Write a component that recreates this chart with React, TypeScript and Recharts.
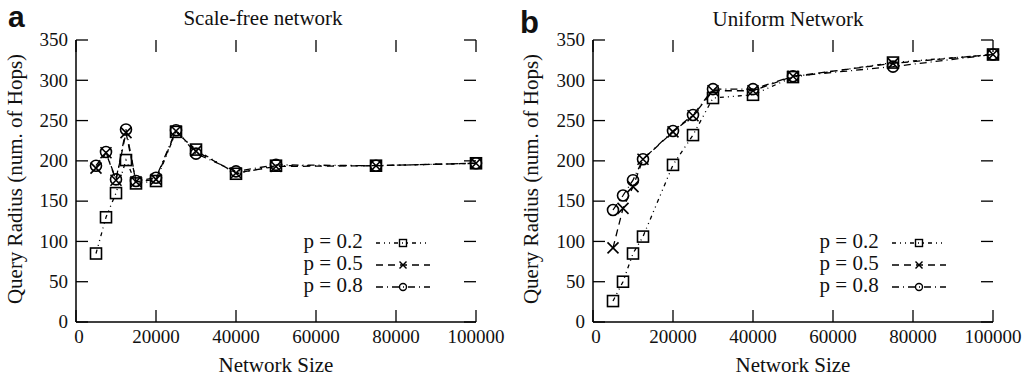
import React from 'react';
import { LineChart, Line, XAxis, YAxis, Legend, Label } from 'recharts';

// ---------- data ----------
const sizesScaleFree = [5000, 7500, 10000, 12500, 15000, 20000, 25000, 30000, 40000, 50000, 75000, 100000];
const scaleFreeP02 = [85, 130, 160, 201, 172, 175, 236, 214, 184, 194, 194, 197];
const scaleFreeP05 = [191, 210, 176, 235, 174, 177, 237, 212, 185, 193, 194, 197];
const scaleFreeP08 = [194, 211, 177, 239, 175, 179, 238, 209, 187, 195, 194, 197];

const sizesUniform = [5000, 7500, 10000, 12500, 20000, 25000, 30000, 40000, 50000, 75000, 100000];
const uniformP02 = [26, 50, 85, 106, 195, 232, 278, 282, 304, 322, 332];
const uniformP05 = [92, 141, 168, 202, 236, 256, 287, 287, 305, 321, 332];
const uniformP08 = [139, 157, 176, 202, 237, 257, 289, 289, 305, 317, 332];

const xTicks = [0, 20000, 40000, 60000, 80000, 100000];
const yTicks = [0, 50, 100, 150, 200, 250, 300, 350];
const seriesKeys = ['p02', 'p05', 'p08'];
const seriesLabels = ['p = 0.2', 'p = 0.5', 'p = 0.8'];
const seriesDash = ['4 4 1 4 1 4', '7 5', '7 4 1 4'];
const seriesMarker = ['square', 'cross', 'circle'];

const xLabel = 'Network Size';
const yLabel = 'Query Radius (num. of Hops)';

const buildRows = (sizes: number[], a: number[], b: number[], c: number[]) =>
  sizes.map((x, i) => ({ x, p02: a[i], p05: b[i], p08: c[i] }));

const scaleFreeRows = buildRows(sizesScaleFree, scaleFreeP02, scaleFreeP05, scaleFreeP08);
const uniformRows = buildRows(sizesUniform, uniformP02, uniformP05, uniformP08);

// ---------- styles ----------
const SERIF = '"Liberation Serif", "Times New Roman", Times, serif';
const SANS = '"Liberation Sans", Arial, Helvetica, sans-serif';
const INK = '#000';
const TXT = '#111';

const Marker = ({ kind, cx, cy, s, w }: { kind: string; cx: number; cy: number; s: number; w: number }) => {
  if (cx == null || cy == null) return null;
  const h = s / 2;
  if (kind === 'square')
    return <rect x={cx - h} y={cy - h} width={s} height={s} fill="none" stroke={INK} strokeWidth={w} />;
  if (kind === 'cross')
    return (
      <g stroke={INK} strokeWidth={w}>
        <line x1={cx - h} y1={cy - h} x2={cx + h} y2={cy + h} />
        <line x1={cx - h} y1={cy + h} x2={cx + h} y2={cy - h} />
      </g>
    );
  return <circle cx={cx} cy={cy} r={h} fill="none" stroke={INK} strokeWidth={w} />;
};

const XTick = (props: any) => {
  const { x, payload, top, bottom } = props;
  return (
    <g>
      <line x1={x} x2={x} y1={bottom} y2={bottom - 12} stroke={INK} strokeWidth={1.3} />
      <line x1={x} x2={x} y1={top} y2={top + 12} stroke={INK} strokeWidth={1.3} />
      <text x={x + (payload.value === 0 ? 3 : 0)} y={bottom + 21} textAnchor="middle" fontFamily={SERIF} fontSize={19} fill={TXT}>
        {payload.value}
      </text>
    </g>
  );
};

const YTick = (props: any) => {
  const { y, payload, left, right } = props;
  return (
    <g>
      <line x1={left} x2={left + 12} y1={y} y2={y} stroke={INK} strokeWidth={1.3} />
      <line x1={right} x2={right - 12} y1={y} y2={y} stroke={INK} strokeWidth={1.3} />
      <text x={left - 8} y={y + 6.3} textAnchor="end" fontFamily={SERIF} fontSize={19} fill={TXT}>
        {payload.value}
      </text>
    </g>
  );
};

const LegendBox = () => (
  <svg width={170} height={72} style={{ display: 'block', overflow: 'visible' }}>
    {seriesLabels.map((lab, i) => {
      const cy = 15 + i * 22;
      return (
        <g key={lab}>
          <text x={72.7} y={20 + i * 22} textAnchor="end" fontFamily={SERIF} fontSize={21} fill={TXT}>
            {lab}
          </text>
          <line x1={86} x2={140} y1={cy} y2={cy} stroke={INK} strokeWidth={1.3} strokeDasharray={seriesDash[i]} />
          <Marker kind={seriesMarker[i]} cx={113} cy={cy} s={7} w={1.4} />
        </g>
      );
    })}
  </svg>
);

type PanelProps = {
  rows: any[];
  width: number;
  axisWidth: number;
  rightMargin: number;
  yLabelX: number;
  legendLeft: number;
};

const TOP = 40;
const BOTTOM = 322;
const HEIGHT = 377;

const Panel = ({ rows, width, axisWidth, rightMargin, yLabelX, legendLeft }: PanelProps) => {
  const left = axisWidth;
  const right = width - rightMargin;
  return (
    <LineChart
      width={width}
      height={HEIGHT}
      data={rows}
      margin={{ top: TOP, right: rightMargin, bottom: 0, left: 0 }}
    >
      <XAxis
        dataKey="x"
        type="number"
        domain={[0, 100000]}
        ticks={xTicks}
        interval={0}
        height={HEIGHT - BOTTOM}
        tickLine={false}
        axisLine={{ stroke: INK, strokeWidth: 1.5 }}
        tick={<XTick top={TOP} bottom={BOTTOM} />}
        label={
          <Label
            content={(p: any) => (
              <text
                x={p.viewBox.x + p.viewBox.width / 2}
                y={372}
                textAnchor="middle"
                fontFamily={SERIF}
                fontSize={21}
                fill={TXT}
              >
                {xLabel}
              </text>
            )}
          />
        }
      />
      <XAxis
        xAxisId="top"
        orientation="top"
        dataKey="x"
        type="number"
        domain={[0, 100000]}
        height={0}
        tick={false}
        tickLine={false}
        axisLine={{ stroke: INK, strokeWidth: 1.5 }}
      />
      <YAxis
        type="number"
        domain={[0, 350]}
        ticks={yTicks}
        interval={0}
        width={axisWidth}
        tickLine={false}
        axisLine={{ stroke: INK, strokeWidth: 1.5 }}
        tick={<YTick left={left} right={right} />}
        label={
          <Label
            content={(p: any) => {
              const cy = p.viewBox.y + p.viewBox.height / 2 - 2;
              return (
                <text
                  x={yLabelX}
                  y={cy}
                  transform={`rotate(-90, ${yLabelX}, ${cy})`}
                  textAnchor="middle"
                  fontFamily={SERIF}
                  fontSize={21}
                  fill={TXT}
                >
                  {yLabel}
                </text>
              );
            }}
          />
        }
      />
      <YAxis
        yAxisId="right"
        orientation="right"
        type="number"
        domain={[0, 350]}
        width={0}
        tick={false}
        tickLine={false}
        axisLine={{ stroke: INK, strokeWidth: 1.5 }}
      />
      <Legend
        layout="horizontal"
        verticalAlign="middle"
        align="center"
        content={() => <LegendBox />}
        wrapperStyle={{ position: 'absolute', left: legendLeft, top: 228, width: 170, height: 72 }}
      />
      {seriesKeys.map((k, i) => (
        <Line
          key={k}
          dataKey={k}
          name={seriesLabels[i]}
          stroke={INK}
          strokeWidth={1.3}
          strokeDasharray={seriesDash[i]}
          isAnimationActive={false}
          dot={(p: any) => <Marker key={`${k}-${p.index}`} kind={seriesMarker[i]} cx={p.cx} cy={p.cy} s={11} w={1.6} />}
          activeDot={false}
        />
      ))}
    </LineChart>
  );
};

export default function App() {
  return (
    <div style={{ position: 'absolute', left: 0, top: 0, width: 1022, height: 377, background: '#fff', overflow: 'hidden' }}>
      <div style={{ position: 'absolute', left: 0, top: 0 }}>
        <Panel rows={scaleFreeRows} width={510} axisWidth={76} rightMargin={34} yLabelX={22} legendLeft={290} />
      </div>
      <div style={{ position: 'absolute', left: 510, top: 0 }}>
        <Panel rows={uniformRows} width={512} axisWidth={83} rightMargin={29} yLabelX={28} legendLeft={296} />
      </div>
      <svg width={1022} height={377} style={{ position: 'absolute', left: 0, top: 0, pointerEvents: 'none' }}>
        <text x={8} y={27} fontFamily={SANS} fontWeight="bold" fontSize={30} fill={TXT}>a</text>
        <text x={520} y={33} fontFamily={SANS} fontWeight="bold" fontSize={31} fill={TXT}>b</text>
        <text x={263} y={25} textAnchor="middle" fontFamily={SERIF} fontSize={21} fill={TXT}>Scale-free network</text>
        <text x={788} y={26} textAnchor="middle" fontFamily={SERIF} fontSize={21} fill={TXT}>Uniform Network</text>
      </svg>
    </div>
  );
}
